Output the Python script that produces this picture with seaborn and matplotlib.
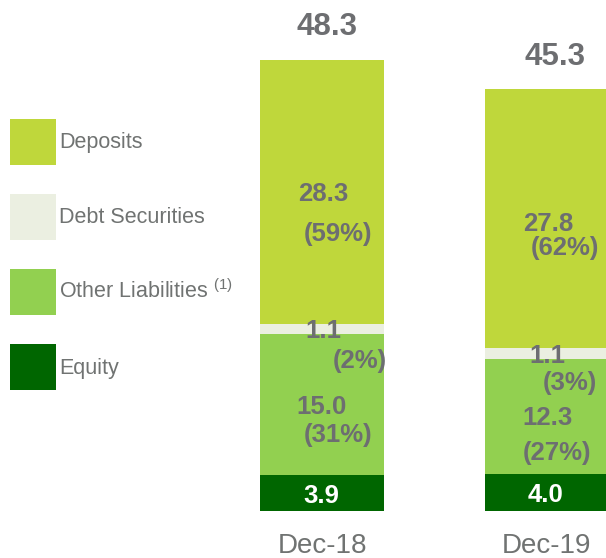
import matplotlib
matplotlib.use("Agg")
import matplotlib.pyplot as plt
from matplotlib.patches import Patch
import pandas as pd
import seaborn as sns

# Chart data
periods = ["Dec-18", "Dec-19"]
equity = [3.9, 4.0]
other_liab = [15.0, 12.3]
debt_sec = [1.1, 1.1]
deposits = [28.3, 27.8]
totals = [48.3, 45.3]
deposits_pct = [59, 62]
debt_pct = [2, 3]
other_pct = [31, 27]

series_names = ["Deposits", "Debt Securities", "Other Liabilities", "Equity"]
colors = {"Deposits": "#BFD73B", "Debt Securities": "#EBEFE1",
          "Other Liabilities": "#92D050", "Equity": "#006600"}
text_gray = "#6D6E71"

sns.set_theme(style="white")
plt.rcParams["font.family"] = ["Liberation Sans", "DejaVu Sans"]

df = pd.DataFrame({"period": periods, "Equity": equity, "Other Liabilities": other_liab,
                   "Debt Securities": debt_sec, "Deposits": deposits})
# cumulative tops, bottom-up
df["cum_eq"] = df["Equity"]
df["cum_other"] = df["cum_eq"] + df["Other Liabilities"]
df["cum_debt"] = df["cum_other"] + df["Debt Securities"]
df["cum_dep"] = df["cum_debt"] + df["Deposits"]

fig = plt.figure(figsize=(6.06, 5.58), dpi=100)
ax = fig.add_axes([0, 47 / 558, 1, 511 / 558])

bar_w = 124 / 225
for col, name in [("cum_dep", "Deposits"), ("cum_debt", "Debt Securities"),
                  ("cum_other", "Other Liabilities"), ("cum_eq", "Equity")]:
    sns.barplot(data=df, x="period", y=col, color=colors[name], width=bar_w,
                linewidth=0, saturation=1, ax=ax)

ax.set_xlim(-322 / 225, (606 - 322) / 225)
ax.set_ylim(0, 511 / 9.34)
ax.set_xlabel("")
ax.set_ylabel("")
ax.set_yticks([])
ax.tick_params(axis="x", length=0, pad=15.5, labelsize=20, labelcolor="#707372")
sns.despine(ax=ax, left=True, bottom=True)


def put(text, x, y, dx, dy, size=18.5, color=text_gray):
    ax.annotate(text, xy=(x, y), xytext=(dx, dy), textcoords="offset pixels",
                ha="center", va="center", fontsize=size, fontweight="bold", color=color)


# label offsets in pixels: (value dx, value dy, pct dx, pct dy)
dep_off = [(1, -2, 16, -42), (1, -5, 18, -29)]
debt_off = [(1, -2, 38, -32), (0, -2, 23, -29)]
other_off = [(0, -2, 16, -30), (1, -2, 10, -37)]
total_off = [(5, 33), (8, 31)]

for i in range(len(periods)):
    mid = df["cum_debt"][i] + deposits[i] / 2
    o = dep_off[i]
    put(f"{deposits[i]:.1f}", i, mid, o[0], o[1])
    put(f"({deposits_pct[i]}%)", i, mid, o[2], o[3])

    mid = df["cum_other"][i] + debt_sec[i] / 2
    o = debt_off[i]
    put(f"{debt_sec[i]:.1f}", i, mid, o[0], o[1])
    put(f"({debt_pct[i]}%)", i, mid, o[2], o[3])

    mid = df["cum_eq"][i] + other_liab[i] / 2
    o = other_off[i]
    put(f"{other_liab[i]:.1f}", i, mid, o[0], o[1])
    put(f"({other_pct[i]}%)", i, mid, o[2], o[3])

    put(f"{equity[i]:.1f}", i, equity[i] / 2, -1, -3, color="white")

    put(f"{totals[i]:.1f}", i, totals[i], total_off[i][0], total_off[i][1], size=22.5)

handles = [Patch(facecolor=colors[n], edgecolor="none") for n in series_names]
labels = ["Deposits", "Debt Securities", r"Other Liabilities $^{\mathregular{(1)}}$", "Equity"]
leg = fig.legend(handles, labels, loc="upper left", bbox_to_anchor=(10 / 606, 1 - 119 / 558),
                 frameon=False, fontsize=15.5, borderpad=0, borderaxespad=0,
                 handlelength=2.14, handleheight=2.91, labelspacing=1.35, handletextpad=0.15)
for t in leg.get_texts():
    t.set_color("#707372")

fig.savefig("out.png", dpi=100)
